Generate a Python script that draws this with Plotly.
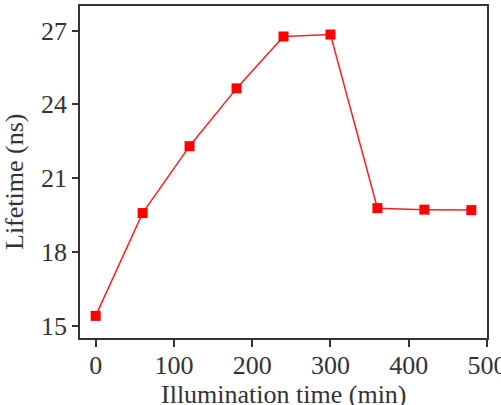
import plotly.graph_objects as go

time_min = [0, 60, 120, 180, 240, 300, 360, 420, 480]
lifetime_ns = [15.4, 19.58, 22.3, 24.65, 26.76, 26.84, 19.78, 19.72, 19.7]
x_ticks = [0, 100, 200, 300, 400, 500]
y_ticks = [15, 18, 21, 24, 27]
x_title = "Illumination time (min)"
y_title = "Lifetime (ns)"

fig = go.Figure()
fig.add_trace(go.Scatter(
    x=time_min, y=lifetime_ns, mode="lines+markers",
    line=dict(color="#ff2020", width=1.5),
    marker=dict(symbol="square", size=10, color="#ff0000"),
))

ff = "Liberation Serif"
font = dict(family=ff, size=26, color="#333333")
fig.update_layout(
    width=501, height=405,
    margin=dict(l=80, r=14, t=6, b=67),
    paper_bgcolor="white", plot_bgcolor="white",
    showlegend=False, font=font,
)
fig.update_xaxes(
    range=[-20, 500.01], tickvals=x_ticks, ticks="outside", ticklen=7, tickwidth=1.5,
    tickcolor="#333", showline=True, linecolor="#333", linewidth=1.5, mirror=True,
    showgrid=False, zeroline=False, automargin=False, ticklabeloverflow="allow",
    ticklabelstandoff=-4,
)
fig.update_yaxes(
    range=[14.5, 28], tickvals=y_ticks, ticks="outside", ticklen=6, tickwidth=1.5,
    tickcolor="#333", showline=True, linecolor="#333", linewidth=1.5, mirror=True,
    showgrid=False, zeroline=False, automargin=False, ticklabeloverflow="allow",
)
fig.add_annotation(text=x_title, xref="paper", yref="paper", x=0.5, y=0,
                   xanchor="center", yanchor="middle", yshift=-56, xshift=0,
                   showarrow=False, font=font)
fig.add_annotation(text=y_title, xref="paper", yref="paper", x=0, y=0.5,
                   xanchor="center", yanchor="middle", xshift=-66, yshift=-10,
                   textangle=-90, showarrow=False, font=font)
fig.write_html("out.html")
